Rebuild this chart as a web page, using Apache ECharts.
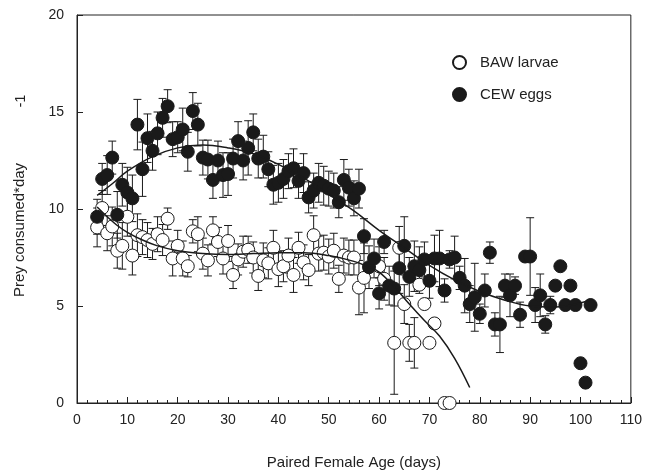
<!DOCTYPE html>
<html>
<head>
<meta charset="utf-8">
<script src="https://cdn.jsdelivr.net/npm/echarts@6.0.0/dist/echarts.min.js"></script>
<style>
  html, body { margin: 0; background: #fff; }
  #chart { width: 645px; height: 475px; }
</style>
</head>
<body>
<div id="chart"></div>
<script>
// CEW eggs (filled circles): day, mean, error
const cewDays = [4, 5, 6, 7, 8, 9, 10, 11, 12, 13, 14, 15, 16, 17, 18, 19, 20, 21, 22, 23, 24, 25, 26, 27, 28, 29, 30,
  31, 32, 33, 34, 35, 36, 37, 38, 39, 40, 41, 42, 43, 44, 45, 46, 47, 48, 49, 50, 51, 52, 53, 54, 55, 56, 57, 58, 59, 60,
  61, 62, 63, 64, 65, 66, 67, 68, 69, 70, 71, 72, 73, 74, 75, 76, 77, 78, 79, 80, 81, 82, 83, 84, 85, 86, 87, 88, 89, 90,
  91, 92, 93, 94, 95, 96, 97, 98, 99, 100, 101, 102];
const cewMeans = [9.6, 11.55, 11.75, 12.65, 9.7, 11.25, 10.85, 10.55, 14.35, 12.05, 13.65, 13.0, 13.9, 14.7, 15.3, 13.6, 13.7, 14.1, 12.95, 15.05, 14.35, 12.65, 12.55, 11.5, 12.5, 11.75, 11.8,
  12.6, 13.5, 12.5, 13.15, 13.95, 12.6, 12.7, 12.05, 11.25, 11.35, 11.55, 11.95, 12.1, 11.45, 11.85, 10.6, 10.95, 11.35, 11.2, 11.05, 10.95, 10.35, 11.5, 11.1, 10.55, 11.05, 8.6, 7.0, 7.45, 5.65,
  8.3, 6.05, 5.9, 6.95, 8.1, 6.5, 7.05, 6.85, 7.4, 6.3, 7.45, 7.45, 5.8, 7.4, 7.5, 6.45, 6.05, 5.1, 5.45, 4.6, 5.8, 7.75, 4.05, 4.05, 6.05, 5.55, 6.05, 4.55, 7.55, 7.55,
  5.05, 5.55, 4.05, 5.05, 6.05, 7.05, 5.05, 6.05, 5.05, 2.05, 1.05, 5.05];
const cewErrs = [0.9, 0.8, 1.0, 0.85, 1.2, 1.1, 1.3, 1.2, 1.3, 1.4, 1.25, 1.0, 1.1, 1.0, 0.85, 0.9, 0.8, 1.1, 1.0, 0.95, 1.1, 0.9, 1.0, 0.95, 1.0, 1.15, 1.1,
  1.0, 1.0, 1.0, 1.4, 0.95, 1.0, 1.1, 0.9, 1.0, 1.0, 1.0, 0.9, 1.0, 0.9, 1.0, 0.8, 0.9, 1.0, 1.0, 0.9, 0.9, 0.8, 1.05, 0.95, 0.9, 1.0, 0.9, 1.1, 1.0, 0.8,
  0.6, 1.0, 0.9, 1.3, 1.5, 1.0, 1.3, 1.2, 0.9, 0.9, 1.2, 1.45, 0.6, 0.45, 1.1, 0.6, 1.4, 0.95, 1.75, 0.5, 0.85, 0.55, 0.6, 1.45, 0.6, 1.1, 0.45, 0.65, 0, 2.0,
  0.9, 1.1, 0.45, 0.45, 0, 0, 0, 0, 0, 0, 0, 0];

// BAW larvae (open circles): day, mean, error
const bawDays = [4, 5, 6, 7, 8, 9, 10, 11, 12, 13, 14, 15, 16, 17, 18, 19, 20, 21, 22, 23, 24, 25, 26, 27, 28, 29, 30,
  31, 32, 33, 34, 35, 36, 37, 38, 39, 40, 41, 42, 43, 44, 45, 46, 47, 48, 49, 50, 51, 52, 53, 54, 55, 56, 57,
  60, 61, 63, 64, 65, 66, 67, 68, 69, 70, 71, 73, 74];
const bawMeans = [9.05, 10.05, 8.75, 9.1, 7.85, 8.1, 9.6, 7.6, 8.65, 8.55, 8.4, 8.2, 8.7, 8.4, 9.5, 7.45, 8.1, 7.45, 7.05, 8.85, 8.7, 7.7, 7.35, 8.9, 8.3, 7.45, 8.35,
  6.6, 7.4, 7.8, 7.9, 7.5, 6.55, 7.35, 7.2, 8.0, 6.9, 7.05, 7.6, 6.6, 8.0, 7.25, 6.85, 8.65, 7.7, 7.75, 7.55, 7.85, 6.4, 7.6, 7.5, 7.5, 5.95, 6.45,
  7.05, 6.4, 3.1, 8.0, 5.1, 3.1, 3.1, 6.1, 5.1, 3.1, 4.1, 0, 0];
const bawErrs = [1.0, 0.9, 0.9, 1.0, 0.9, 1.2, 1.0, 1.0, 1.1, 0.9, 0.9, 0.8, 0.9, 0.8, 0.55, 0.9, 0.8, 0.9, 0.55, 0.6, 0.9, 0.8, 0.8, 0.7, 0.75, 0.8, 0.8,
  0.7, 0.8, 0.8, 0.7, 0.8, 0.75, 0.9, 0.8, 0.9, 0.9, 0.8, 0.9, 0.9, 0.8, 0.9, 0.8, 1.0, 0.9, 0.9, 0.9, 0.9, 0.7, 0.9, 0.9, 0.9, 1.4, 1.8,
  1.0, 1.1, 2.65, 1.1, 1.0, 0.95, 1.3, 0, 0, 0, 0, 0, 0];

// fitted curves
const cewFitDays = [4, 7, 10, 15, 20, 25, 30, 35, 40, 45, 50, 55, 60, 65, 70, 75, 80, 85, 90, 95, 100, 102];
const cewFitVals = [10.7, 11.3, 11.95, 12.7, 13.15, 13.3, 13.15, 12.85, 12.3, 11.6, 10.75, 9.9, 8.9, 8.0, 7.1, 6.35, 5.75, 5.3, 5.0, 4.95, 5.15, 5.35];
const bawFitDays = [4, 6, 8, 10, 13, 16, 20, 25, 30, 35, 40, 45, 50, 55, 58, 60, 63, 66, 69, 72, 75, 78];
const bawFitVals = [10.1, 9.6, 9.15, 8.8, 8.4, 8.1, 7.85, 7.7, 7.65, 7.7, 7.75, 7.75, 7.6, 7.3, 7.0, 6.75, 6.0, 5.1, 4.25, 3.45, 2.3, 0.8];

const FONT = "'Liberation Sans', Arial, sans-serif";
const INK = '#1a1a1a';

const zip = (xs, ys) => xs.map((x, i) => [x, ys[i]]);
const bars = (xs, ys, es) => xs
  .map((x, i) => [x, ys[i] - es[i], ys[i] + es[i], es[i]])
  .filter(d => d[3] > 0);

function errorBarItem(params, api) {
  const x = api.value(0);
  const top = api.coord([x, api.value(2)]);
  const bot = api.coord([x, api.value(1)]);
  const half = 4;
  const style = { stroke: INK, lineWidth: 1 };
  return {
    type: 'group',
    children: [
      { type: 'line', shape: { x1: top[0], y1: top[1], x2: bot[0], y2: bot[1] }, style },
      { type: 'line', shape: { x1: top[0] - half, y1: top[1], x2: top[0] + half, y2: top[1] }, style },
      { type: 'line', shape: { x1: bot[0] - half, y1: bot[1], x2: bot[0] + half, y2: bot[1] }, style },
    ],
  };
}

const chart = echarts.init(document.getElementById('chart'));

chart.setOption({
  animation: false,
  backgroundColor: '#fff',
  textStyle: { fontFamily: FONT },
  grid: {
    left: 77, right: 12, top: 15, bottom: 70,
    show: true, borderColor: '#222', borderWidth: 1, backgroundColor: 'transparent',
  },
  legend: {
    orient: 'vertical',
    left: 447, top: 50,
    itemWidth: 13, itemHeight: 13, itemGap: 17,
    data: ['BAW larvae', 'CEW eggs'],
    textStyle: { fontFamily: FONT, fontSize: 15, color: '#222', padding: [0, 0, 0, 9] },
  },
  xAxis: {
    type: 'value', min: 0, max: 110, interval: 10,
    axisLine: { lineStyle: { color: '#222', width: 1 } },
    axisTick: { inside: true, length: 6, lineStyle: { color: '#222' } },
    minorTick: { show: true, splitNumber: 5, length: 3, lineStyle: { color: '#222' } },
    splitLine: { show: false },
    axisLabel: { fontFamily: FONT, fontSize: 14, color: '#222', margin: 10 },
    name: 'Paired Female Age (days)',
    nameLocation: 'middle', nameGap: 52,
    nameTextStyle: { fontFamily: FONT, fontSize: 15, color: '#222' },
  },
  yAxis: {
    type: 'value', min: 0, max: 20, interval: 5,
    axisLine: { show: true, lineStyle: { color: '#222', width: 1 } },
    axisTick: { show: true, inside: true, length: 6, lineStyle: { color: '#222' } },
    splitLine: { show: false },
    axisLabel: { fontFamily: FONT, fontSize: 14, color: '#222', margin: 13 },
  },
  graphic: [
    {
      type: 'text', x: 20, y: 230, rotation: Math.PI / 2,
      style: { text: 'Prey consumed*day', font: '15px ' + FONT, fill: '#222', align: 'center', verticalAlign: 'middle' },
    },
    {
      type: 'text', x: 21, y: 101, rotation: Math.PI / 2,
      style: { text: '-1', font: '14px ' + FONT, fill: '#222', align: 'center', verticalAlign: 'middle' },
    },
  ],
  series: [
    {
      type: 'custom', name: 'baw-err', renderItem: errorBarItem,
      data: bars(bawDays, bawMeans, bawErrs), encode: { x: 0, y: [1, 2] }, silent: true,
    },
    {
      type: 'custom', name: 'cew-err', renderItem: errorBarItem,
      data: bars(cewDays, cewMeans, cewErrs), encode: { x: 0, y: [1, 2] }, silent: true,
    },
    {
      type: 'scatter', name: 'BAW larvae', symbol: 'circle', symbolSize: 13,
      data: zip(bawDays, bawMeans),
      itemStyle: { color: '#fff', borderColor: INK, borderWidth: 1, opacity: 1 },
    },
    {
      type: 'scatter', name: 'CEW eggs', symbol: 'circle', symbolSize: 13,
      data: zip(cewDays, cewMeans),
      itemStyle: { color: INK, borderColor: INK, borderWidth: 1, opacity: 1 },
    },
    {
      type: 'line', name: 'cew-fit', data: zip(cewFitDays, cewFitVals),
      smooth: 0.4, showSymbol: false, lineStyle: { color: INK, width: 1.5 }, silent: true,
    },
    {
      type: 'line', name: 'baw-fit', data: zip(bawFitDays, bawFitVals),
      smooth: 0.4, showSymbol: false, lineStyle: { color: INK, width: 1.5 }, silent: true,
    },
  ],
});
</script>
</body>
</html>
